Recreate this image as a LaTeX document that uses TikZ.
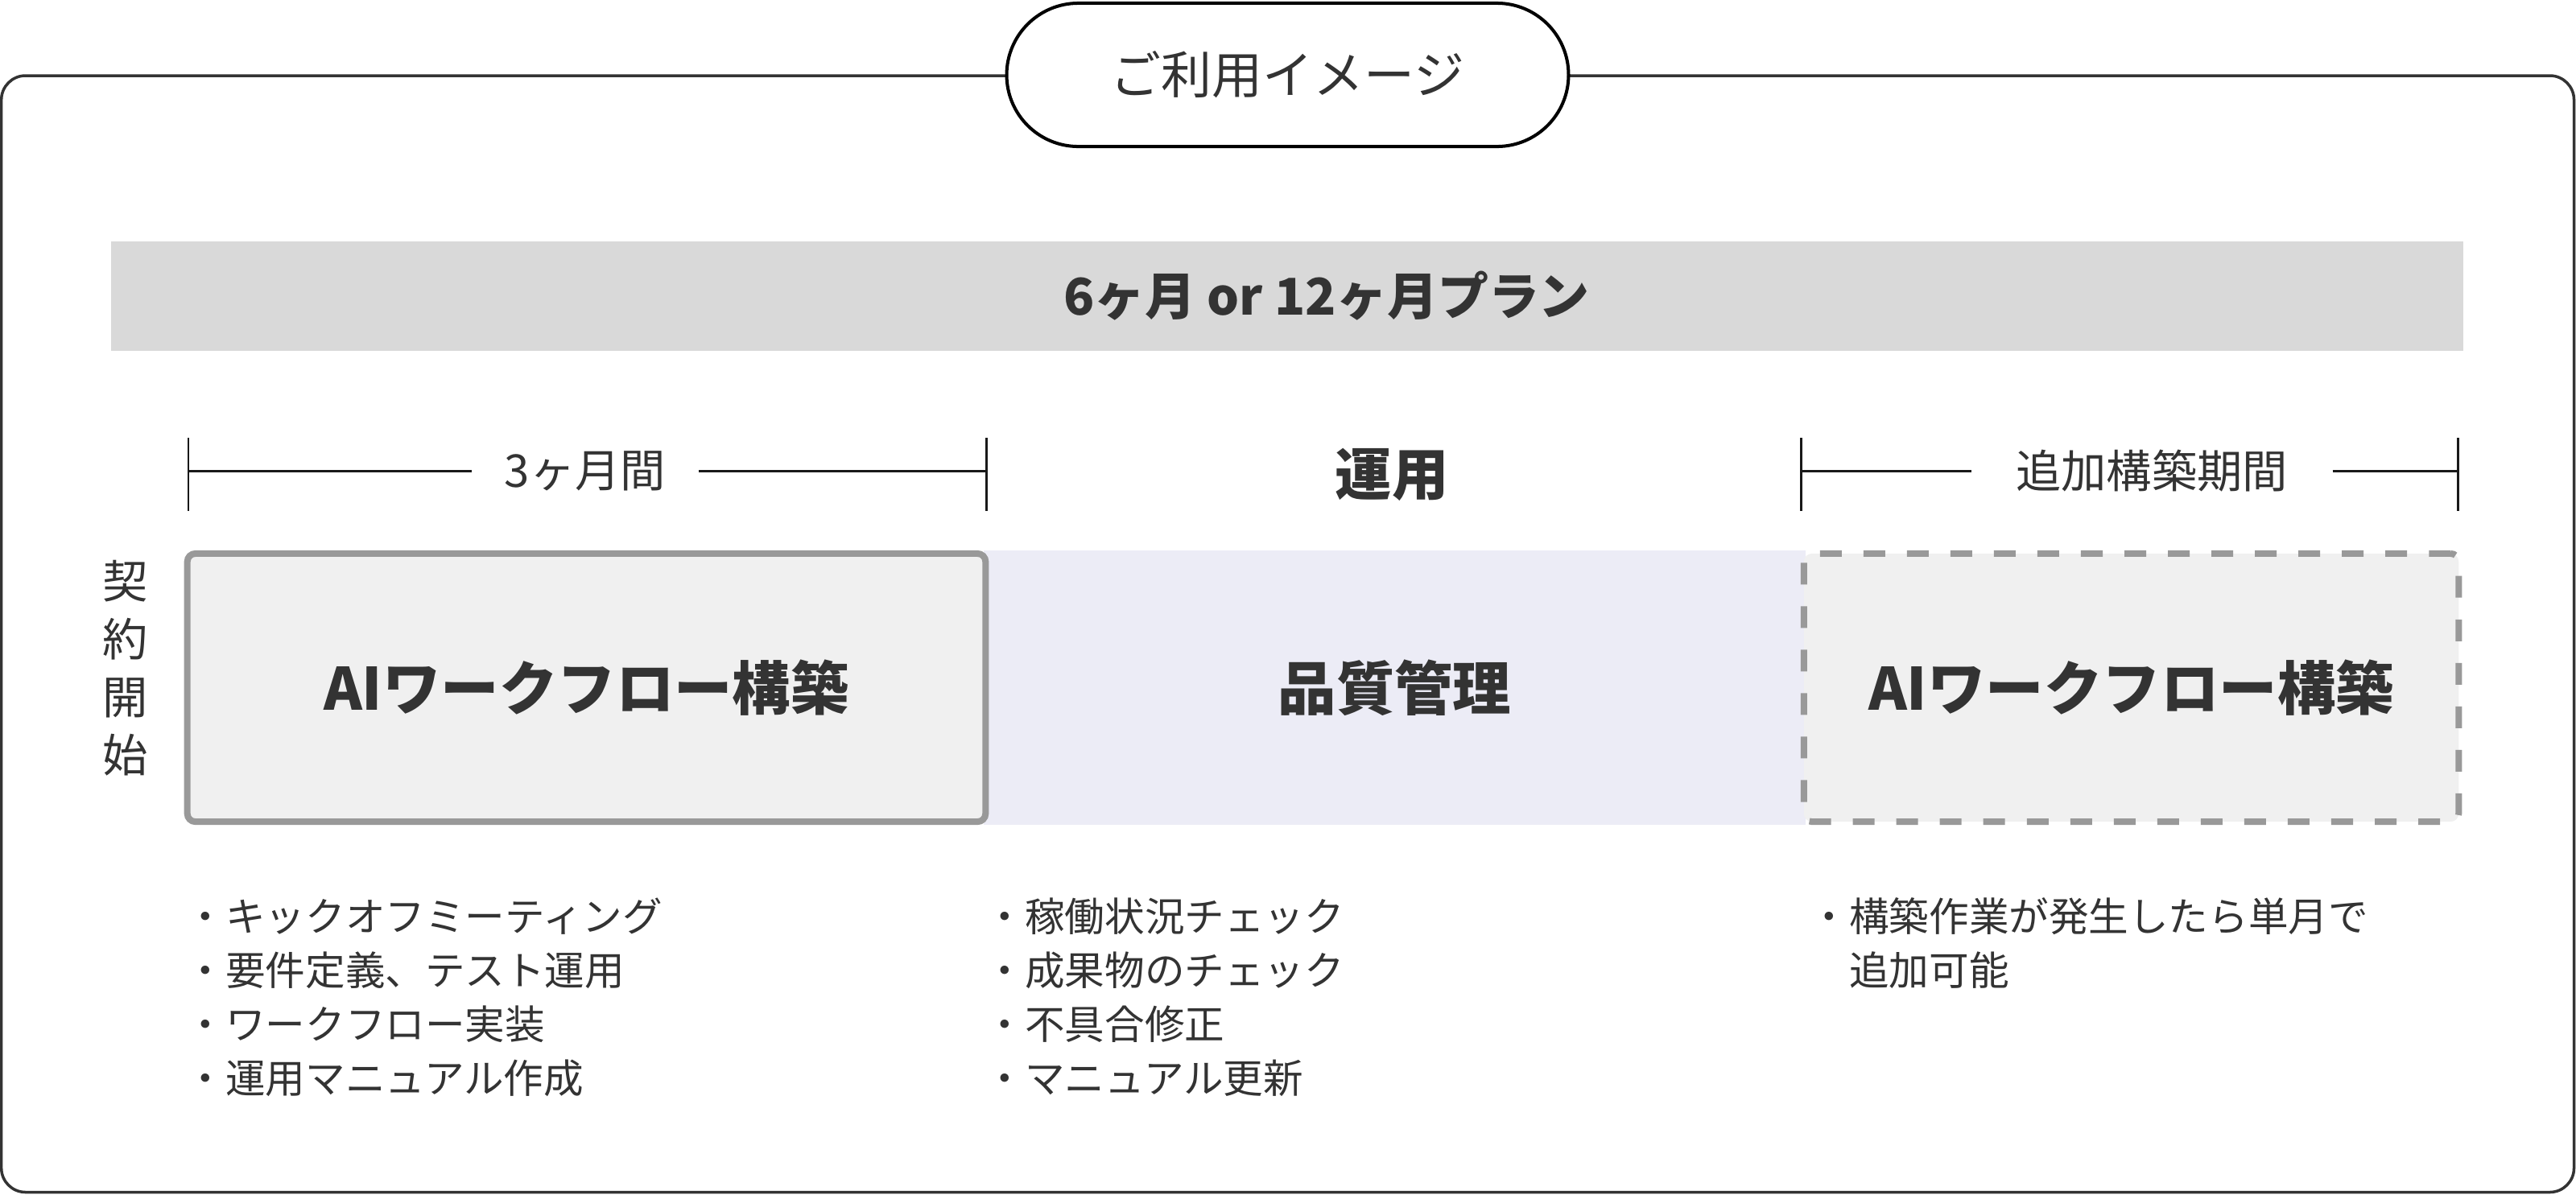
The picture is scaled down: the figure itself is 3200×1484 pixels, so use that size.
\documentclass[tikz,border=0pt]{standalone}
\usepackage{fontspec}
\setmainfont{Noto Sans CJK JP}
\usepackage{tikz}
\usetikzlibrary{shapes.misc}

\definecolor{ink}{HTML}{333333}
\definecolor{planbg}{HTML}{D9D9D9}
\definecolor{boxbg}{HTML}{F0F0F0}
\definecolor{boxline}{HTML}{999999}
\definecolor{opsbg}{HTML}{ECECF6}

\begin{document}
\begin{tikzpicture}[x=0.01cm,y=-0.01cm,
    pill/.style={rounded rectangle,draw=black,fill=white,line width=1.14pt,
      minimum width=7.21cm,minimum height=1.78cm,text=ink,
      font=\fontsize{17.9pt}{21pt}\selectfont},
    band/.style={fill=planbg,minimum width=29.2cm,minimum height=1.36cm},
    buildbox/.style={draw=boxline,fill=boxbg,line width=2.28pt,rounded corners=0.1cm,
      minimum width=9.91cm,minimum height=3.33cm,text=ink,
      font=\bfseries\fontsize{20.6pt}{24pt}\selectfont},
    opsband/.style={fill=opsbg,minimum width=10.21cm,minimum height=3.41cm,text=ink,
      font=\bfseries\fontsize{20.6pt}{24pt}\selectfont},
    span/.style={text=ink,inner ysep=0pt,font=\fontsize{16pt}{19pt}\selectfont},
    bracket/.style={line width=0.85pt,black!90},
    items/.style={text=ink,align=left,inner sep=0pt,
      font=\fontsize{14.1pt}{19.1pt}\selectfont}]
  \useasboundingbox (0,0) rectangle (3200,1484);

  % outer frame and title
  \draw[ink,line width=1pt,rounded corners=0.3cm] (1.7,94) rectangle (3197.5,1481.5);
  \node[pill] (title) at (1599.5,93) {ご利用イメージ};

  \node[band] (plan) at (1599,368) {};
  \node[text=ink,font=\bfseries\fontsize{17.9pt}{22pt}\selectfont] (plantitle) at (1648,368) {6ヶ月 or 12ヶ月プラン};

  % periods
  \draw[bracket] (234,544) -- (234,635);
  \draw[bracket] (1225,544) -- (1225,635);
  \node[span,inner xsep=0.4cm] (span1) at (727,585) {3ヶ月間};
  \coordinate (s1l) at (234,585);
  \coordinate (s1r) at (1225,585);
  \draw[bracket] (s1l) -- (span1);
  \draw[bracket] (span1) -- (s1r);

  \node[text=ink,font=\bfseries\fontsize{20pt}{24pt}\selectfont] (opslabel) at (1729,590) {運用};

  \draw[bracket] (2237,544) -- (2237,635);
  \draw[bracket] (3053,544) -- (3053,635);
  \node[span,inner xsep=0.55cm] (span3) at (2673,585) {追加構築期間};
  \coordinate (s3l) at (2237,585);
  \coordinate (s3r) at (3053,585);
  \draw[bracket] (s3l) -- (span3);
  \draw[bracket] (span3) -- (s3r);

  % phases
  \node[text=ink,align=center,font=\fontsize{16pt}{20.5pt}\selectfont] (start) at (155.5,830.5) {契\\約\\開\\始};
  \node[opsband] (ops) at (1732.5,854.5) {品質管理};
  \node[buildbox] (build) at (728.5,854.5) {AIワークフロー構築};
  \node[buildbox,minimum width=8.13cm,dash pattern=on 0.27cm off 0.27cm] (extra) at (2647.5,854.5) {AIワークフロー構築};

  % details
  \node[items,anchor=north west] (list1) at (230,1115) {・キックオフミーティング\\・要件定義、テスト運用\\・ワークフロー実装\\・運用マニュアル作成};
  \node[items,anchor=north west] (list2) at (1223,1115) {・稼働状況チェック\\・成果物のチェック\\・不具合修正\\・マニュアル更新};
  \node[items,anchor=north west] (list3) at (2247,1115) {・構築作業が発生したら単月で\\\hspace*{1em}追加可能};
\end{tikzpicture}
\end{document}
